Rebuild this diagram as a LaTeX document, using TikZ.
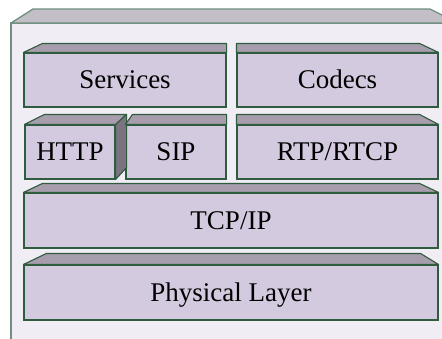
\documentclass[tikz,border=0pt]{standalone}
\usepackage{fontspec}
\setmainfont{Liberation Serif}
\newfontfamily\layerfont{Liberation Serif}
\definecolor{frontc}{HTML}{D3CADF}
\definecolor{topc}{HTML}{A79DAC}
\definecolor{sidec}{HTML}{7B7380}
\definecolor{edgec}{HTML}{2F5B3E}
\definecolor{outerfront}{HTML}{F0EEF4}
\definecolor{outertop}{HTML}{C2BFC6}
\definecolor{outeredge}{HTML}{6E8E80}
\begin{document}
\begin{tikzpicture}[x=1pt,y=-1pt,
  layer/.style={draw=edgec, fill=frontc, line width=1.1pt, inner sep=0pt,
    minimum height=54pt, text height=17.9pt, text depth=0pt,
    font=\layerfont\fontsize{27}{30}\selectfont},
  topface/.style={draw=edgec, fill=topc, line width=1.1pt, line join=round},
  sideface/.style={draw=edgec, fill=sidec, line width=1.1pt, line join=round},
  outerline/.style={draw=outeredge, line width=1.3pt}]
\useasboundingbox (0,0) rectangle (442,338);
\clip (0,0) rectangle (442,338);
% outer box
\fill[outerfront] (11,23) rectangle (470,360);
\draw[outerline] (11,360) -- (11,23) -- (470,23);
\filldraw[outertop, outerline, line join=round] (11,23) -- (33,9) -- (430,9) -- (458,23) -- cycle;
% layers
\node[layer, minimum width=202pt] (services) at (125,80) {Services};
\node[layer, minimum width=201pt] (codecs) at (337.5,80) {Codecs};
\node[layer, minimum width=90pt] (http) at (70,152) {HTTP};
\node[layer, minimum width=100pt] (sip) at (176,152) {SIP};
\node[layer, minimum width=201pt] (rtp) at (337.5,152) {RTP/RTCP};
\node[layer, minimum width=414pt, minimum height=55pt] (tcp) at (231,220.5) {TCP/IP};
\node[layer, minimum width=414pt, minimum height=55pt] (phys) at (231,292.5) {Physical Layer};
% top faces
\draw[topface] (services.north west) -- ++(19,-9) -- ([shift={(0,-9)}]services.north east) -- (services.north east) -- cycle;
\draw[topface] (codecs.north west) -- ++(0,-9) -- ([shift={(-19,-9)}]codecs.north east) -- (codecs.north east) -- cycle;
\draw[topface] (http.north west) -- ++(20,-10) -- ([shift={(11,-10)}]http.north east) -- (http.north east) -- cycle;
\draw[sideface] (http.north east) -- ++(11,-10) -- ([shift={(11,-12)}]http.south east) -- (http.south east) -- cycle;
\draw[topface] (sip.north west) -- ++(7,-10) -- ([shift={(0,-10)}]sip.north east) -- (sip.north east) -- cycle;
\draw[topface] (rtp.north west) -- ++(0,-10) -- ([shift={(-19,-10)}]rtp.north east) -- (rtp.north east) -- cycle;
\draw[topface] (tcp.north west) -- ++(19,-9) -- ([shift={(-19,-9)}]tcp.north east) -- (tcp.north east) -- cycle;
\draw[topface] (phys.north west) -- ++(23,-11) -- ([shift={(-18,-11)}]phys.north east) -- (phys.north east) -- cycle;
\end{tikzpicture}
\end{document}
